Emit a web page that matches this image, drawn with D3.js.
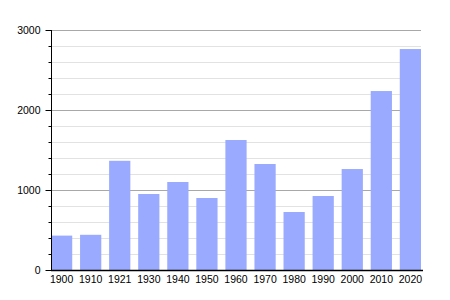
<!DOCTYPE html>
<html>
<head>
<meta charset="utf-8">
<script src="https://cdn.jsdelivr.net/npm/d3@7"></script>
<style>
  body { margin: 0; background: #fff; }
  text { font-family: "Liberation Sans", Arial, sans-serif; font-size: 10.5px; fill: #000; }
</style>
</head>
<body>
<div id="chart"></div>
<script>
const years = ["1900", "1910", "1921", "1930", "1940", "1950", "1960", "1970", "1980", "1990", "2000", "2010", "2020"];
const population = [430, 440, 1365, 950, 1100, 900, 1625, 1325, 725, 925, 1262, 2237, 2762];
const majorTicks = [0, 1000, 2000, 3000];

const width = 450;
const height = 300;
const margin = { top: 30, right: 29, bottom: 30, left: 51 };

const svg = d3.select('#chart')
  .append('svg')
  .attr('width', width)
  .attr('height', height);

const x = d3.scaleBand()
  .domain(years)
  .range([margin.left, width - margin.right])
  .paddingInner(0.27)
  .paddingOuter(0);

const y = d3.scaleLinear()
  .domain([0, 3000])
  .range([height - margin.bottom, margin.top]);

// minor gridlines every 200
const minor = d3.range(200, 3000, 200).filter(d => d % 1000 !== 0);
svg.append('g')
  .selectAll('line')
  .data(minor)
  .join('line')
  .attr('x1', margin.left)
  .attr('x2', width - margin.right)
  .attr('y1', d => y(d) + 0.5)
  .attr('y2', d => y(d) + 0.5)
  .attr('stroke', '#e2e2e2');

// major gridlines
svg.append('g')
  .selectAll('line')
  .data(majorTicks.slice(1))
  .join('line')
  .attr('x1', margin.left)
  .attr('x2', width - margin.right)
  .attr('y1', d => y(d) + 0.5)
  .attr('y2', d => y(d) + 0.5)
  .attr('stroke', '#a8a8a8');

// bars
svg.append('g')
  .selectAll('rect')
  .data(years)
  .join('rect')
  .attr('x', (d) => x(d))
  .attr('width', x.bandwidth())
  .attr('y', (d, i) => y(population[i]))
  .attr('height', (d, i) => y(0) - y(population[i]))
  .attr('fill', '#99aaff');

// y axis
const yAxis = svg.append('g')
  .attr('transform', `translate(${margin.left + 0.5}, 0)`);
yAxis.call(d3.axisLeft(y).tickValues(minor).tickSize(3).tickFormat(''));
yAxis.call(g => g.select('.domain').remove());
const yMajor = svg.append('g')
  .attr('transform', `translate(${margin.left + 0.5}, 0)`)
  .call(d3.axisLeft(y).tickValues(majorTicks).tickSize(6).tickPadding(5).tickFormat(d3.format('d')));
yMajor.select('.domain').attr('d', `M0,${y(0)}V${y(3000)}`);
svg.selectAll('.tick text').style('font-size', '10.5px').attr('fill', '#000');

// x axis
const xAxis = svg.append('g')
  .attr('transform', `translate(0, ${y(0) + 0.5})`)
  .call(d3.axisBottom(x).tickSize(0).tickPadding(5));
xAxis.select('.domain').attr('d', `M${margin.left},0H${width - margin.right + 2}`).attr('stroke-width', 1.5);
xAxis.selectAll('text').style('font-size', '10.5px');
svg.selectAll('text').attr('font-family', '"Liberation Sans", Arial, sans-serif');
</script>
</body>
</html>
